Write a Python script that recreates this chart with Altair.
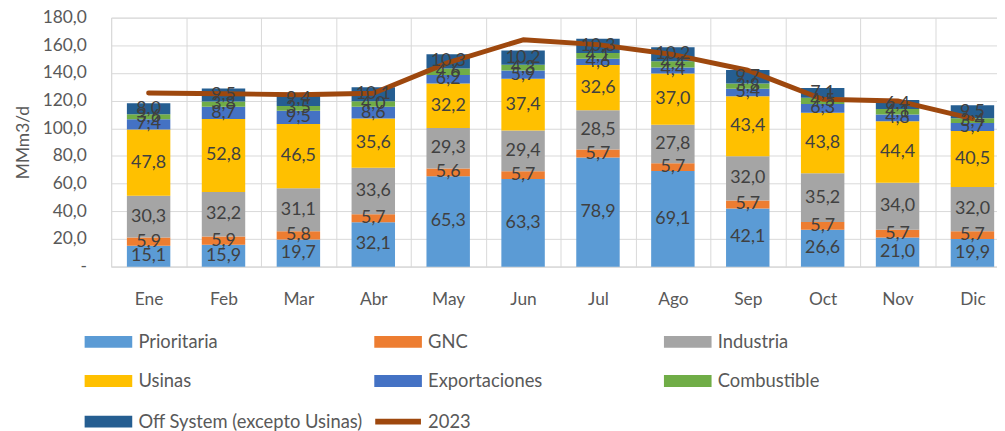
import altair as alt
import pandas as pd

months = ["Ene", "Feb", "Mar", "Abr", "May", "Jun", "Jul", "Ago", "Sep", "Oct", "Nov", "Dic"]
series = ["Prioritaria", "GNC", "Industria", "Usinas", "Exportaciones", "Combustible",
          "Off System (excepto Usinas)"]
prioritaria = [15.1, 15.9, 19.7, 32.1, 65.3, 63.3, 78.9, 69.1, 42.1, 26.6, 21.0, 19.9]
gnc = [5.9, 5.9, 5.8, 5.7, 5.6, 5.7, 5.7, 5.7, 5.7, 5.7, 5.7, 5.7]
industria = [30.3, 32.2, 31.1, 33.6, 29.3, 29.4, 28.5, 27.8, 32.0, 35.2, 34.0, 32.0]
usinas = [47.8, 52.8, 46.5, 35.6, 32.2, 37.4, 32.6, 37.0, 43.4, 43.8, 44.4, 40.5]
exportaciones = [7.4, 8.7, 9.5, 8.6, 6.2, 5.9, 4.6, 4.4, 5.4, 6.3, 4.8, 5.7]
combustible = [3.6, 3.8, 3.5, 4.0, 4.6, 4.3, 4.1, 4.4, 3.8, 4.5, 4.1, 3.4]
off_system = [8.0, 9.5, 9.4, 10.1, 10.3, 10.2, 10.3, 10.2, 9.7, 7.1, 6.4, 9.5]
line_label = "2023"
line_2023 = [125.5, 125.0, 124.3, 125.3, 147.5, 164.0, 160.5, 153.3, 142.0, 121.0, 119.8, 107.0]

colors = ["#5B9BD5", "#ED7D31", "#A5A5A5", "#FFC000", "#4472C4", "#70AD47", "#255E91", "#9E480E"]

values = [prioritaria, gnc, industria, usinas, exportaciones, combustible, off_system]
rows = []
for si, (name, vals) in enumerate(zip(series, values)):
    for m, v in zip(months, vals):
        rows.append({"mes": m, "serie": name, "ord": si, "valor": v})
bars_df = pd.DataFrame(rows)
line_df = pd.DataFrame({"mes": months, "serie": line_label, "valor": line_2023})

FONT = "Lato"
domain = series + [line_label]

x_scale = alt.Scale(paddingInner=0, paddingOuter=0)
x_axis = alt.Axis(labelAngle=0, ticks=False, grid=True, tickBand="extent",
                  domainColor="#D9D9D9", gridColor="#D9D9D9",
                  labelPadding=24, labelFontSize=17.5, labelColor="#595959",
                  labelFont=FONT, title=None)

def xe():
    return alt.X("mes:N", sort=months, title=None, scale=x_scale, axis=x_axis)

rect_path = "M-1,-0.25H1V0.25H-1Z"
is_line = "datum.value === '2023'"
color_scale = alt.Scale(domain=domain, range=colors)
color_enc = alt.Color(
    "serie:N",
    scale=color_scale,
    legend=alt.Legend(
        title=None, orient="none", legendX=-12, legendY=316, columns=3,
        direction="horizontal", gridAlign="all", columnPadding=0, rowPadding=16,
        symbolType=alt.ExprRef(is_line + " ? 'M-0.96,0H0.96' : '" + rect_path + "'"),
        symbolSize=2304,
        symbolStrokeWidth=alt.ExprRef(is_line + " ? 6 : 0"),
        symbolOffset=0,
        labelOffset=21, labelFont=FONT, labelFontSize=18.5, labelColor="#595959",
        labelLimit=400,
    ),
)

y_scale = alt.Scale(domain=[0, 180], nice=False)
y_axis = alt.Axis(values=list(range(0, 181, 20)), ticks=False, domain=False,
                  gridColor="#D9D9D9", labelPadding=25, labelFontSize=17.5,
                  labelColor="#595959", labelFont=FONT, labelOverlap=False,
                  labelExpr="datum.value == 0 ? '-' : replace(format(datum.value, '.1f'), '.', ',')",
                  title="MMm3/d", titleFont=FONT, titleFontSize=17.5, titleColor="#595959",
                  titleFontWeight="normal", titlePadding=10)

bars = alt.Chart(bars_df).mark_bar(width=alt.RelativeBandSize(0.58)).encode(
    x=xe(),
    y=alt.Y("valor:Q", stack="zero", scale=y_scale, axis=y_axis),
    color=color_enc,
    order=alt.Order("ord:Q"),
)

line = alt.Chart(line_df).mark_line(strokeWidth=5, strokeCap="round", strokeJoin="round").encode(
    x=xe(),
    y=alt.Y("valor:Q", scale=y_scale, axis=y_axis),
    color=alt.Color("serie:N", scale=color_scale),
)

labels = alt.Chart(bars_df).transform_stack(
    stack="valor", groupby=["mes"], as_=["y0", "y1"], sort=[alt.SortField("ord")]
).transform_calculate(
    mid="(datum.y0 + datum.y1) / 2",
    lbl="replace(format(datum.valor, '.1f'), '.', ',')",
).mark_text(font=FONT, fontSize=18, color="#404040", baseline="middle").encode(
    x=xe(),
    y=alt.Y("mid:Q", scale=y_scale, axis=y_axis),
    text="lbl:N",
)

chart = alt.layer(bars, line, labels).properties(
    width=906, height=251,
    autosize=alt.AutoSizeParams(type="none"),
    padding={"left": 104, "top": 8, "right": -13, "bottom": 166},
).configure_view(stroke=None).configure(background="white")

chart.save("out.html", embed_options={"renderer": "svg", "actions": False})
